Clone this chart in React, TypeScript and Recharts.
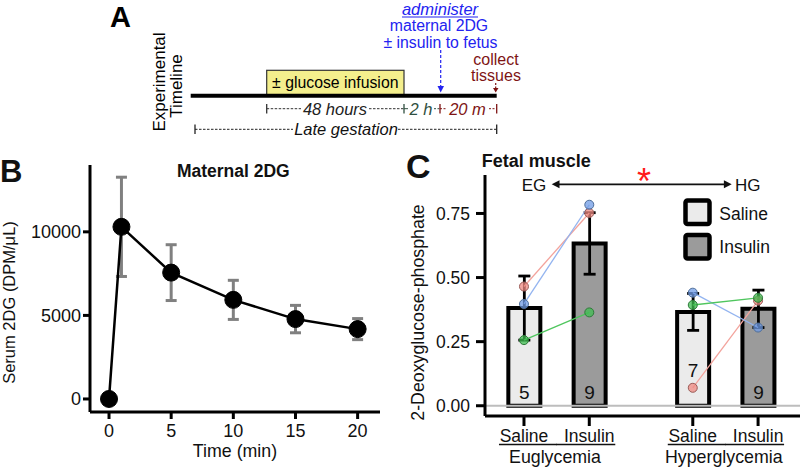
import React from 'react';
import {
  LineChart, Line, XAxis, YAxis, ErrorBar, ComposedChart, Bar, Cell, LabelList, ReferenceLine,
} from 'recharts';

const FONT = '"Liberation Sans", Arial, Helvetica, sans-serif';

// Panel B: maternal serum 2DG over time
const bTime = [0, 1, 5, 10, 15, 20];
const bMean = [0, 10300, 7560, 5930, 4780, 4180];
const bSem = [0, 2970, 1670, 1170, 820, 630];
const bTicksX = [0, 5, 10, 15, 20];
const bTicksY = [0, 5000, 10000];

// Panel C: fetal muscle 2-deoxyglucose-phosphate
const cGroups = ['Euglycemia', 'Hyperglycemia'];
const cTreat = ['Saline', 'Insulin', 'Saline', 'Insulin'];
const cPos = [1, 2, 3.585, 4.585];
const cMean = [0.381, 0.633, 0.366, 0.378];
const cSem = [0.125, 0.12, 0.072, 0.073];
const cN = [5, 9, 7, 9];
const cRed = [0.465, 0.752, 0.07, 0.41];
const cBlue = [0.397, 0.784, 0.441, 0.305];
const cGreen = [0.256, 0.364, 0.393, 0.421];
const cTicksY = [0, 0.25, 0.5, 0.75];
const cLegend = ['Saline', 'Insulin'];

const SALINE_FILL = '#ebebeb';
const INSULIN_FILL = '#9b9b9b';

const bData = bTime.map((t, i) => ({ t, v: bMean[i], e: bSem[i] }));

const cData = cPos.map((x, i) => {
  const eg = i < 2;
  return {
    x,
    mean: cMean[i],
    err: cSem[i],
    n: cN[i],
    redEG: eg ? cRed[i] : null,
    redHG: eg ? null : cRed[i],
    blueEG: eg ? cBlue[i] : null,
    blueHG: eg ? null : cBlue[i],
    greenEG: eg ? cGreen[i] : null,
    greenHG: eg ? null : cGreen[i],
  };
});

const subjects = [
  { key: 'red', line: '#f3a39c', fill: '#ef8a82', stroke: '#9a5c58' },
  { key: 'blue', line: '#93b4f0', fill: '#6f9be6', stroke: '#4f6f9a' },
  { key: 'green', line: '#4fc65e', fill: '#3fbd50', stroke: '#2f7a3a' },
];

const axisStyle = { stroke: '#000', strokeWidth: 3 };

function CTick(props: any) {
  const { x, y, index } = props;
  const even = index % 2 === 0;
  return (
    <g>
      <text x={x} y={y + 15} textAnchor="middle" fontSize={17.5} fontFamily={FONT} fill="#111">
        {cTreat[index]}
      </text>
      <line
        x1={even ? x - 25 : x - 33}
        x2={even ? x + 33 : x + 26}
        y1={y + 17.5}
        y2={y + 17.5}
        stroke="#111"
        strokeWidth={1.3}
      />
      {even && (
        <text x={x + 31} y={y + 35.5} textAnchor="middle" fontSize={17.8} fontFamily={FONT} fill="#111">
          {cGroups[index / 2]}
        </text>
      )}
    </g>
  );
}

function NLabel(props: any) {
  const vb = props.viewBox || props;
  const { x, y, width, height } = vb;
  // the hyperglycemia saline count sits higher to clear its data point
  const lift = props.index === 2 ? 22 : 0;
  return (
    <text
      x={x + width / 2}
      y={y + height - 7 - lift}
      textAnchor="middle"
      fontSize={19}
      fontFamily={FONT}
      fill="#111"
    >
      {props.value}
    </text>
  );
}

function PanelA() {
  const blue = '#2323f0';
  const red = '#7e1414';
  const green = '#2f4f40';
  return (
    <g fontFamily={FONT}>
      <text x={110} y={27} fontSize={29} fontWeight="bold">A</text>
      <text transform="rotate(-90 165 82)" x={165} y={82} textAnchor="middle" fontSize={17}>Experimental</text>
      <text transform="rotate(-90 182 86)" x={182} y={86} textAnchor="middle" fontSize={17}>Timeline</text>

      <rect x={266.7} y={70.3} width={137.3} height={25} fill="#f4ef8d" stroke="#333" strokeWidth={1.2} />
      <text x={335.3} y={88} textAnchor="middle" fontSize={15.8}>± glucose infusion</text>
      <line x1={190.7} x2={496.7} y1={95.7} y2={95.7} stroke="#000" strokeWidth={4} />

      <text x={440} y={14.5} textAnchor="middle" fontSize={16.5} fontStyle="italic" fill={blue}>administer</text>
      <line x1={402} x2={478} y1={17} y2={17} stroke={blue} strokeWidth={1.1} />
      <text x={439} y={31} textAnchor="middle" fontSize={15.8} fill={blue}>maternal 2DG</text>
      <text x={440.5} y={47.5} textAnchor="middle" fontSize={15.8} fill={blue}>± insulin to fetus</text>
      <line x1={440.7} x2={440.7} y1={50} y2={87} stroke={blue} strokeWidth={1.2} strokeDasharray="3 2" />
      <polygon points="437.5,86 444,86 440.7,92.5" fill={blue} />

      <text x={496} y={65} textAnchor="middle" fontSize={16} fill={red}>collect</text>
      <text x={496} y={81} textAnchor="middle" fontSize={16} fill={red}>tissues</text>
      <line x1={495.7} x2={495.7} y1={83} y2={88} stroke={red} strokeWidth={1.2} strokeDasharray="2 1.5" />
      <polygon points="493,88 498.5,88 495.7,92.5" fill={red} />

      <line x1={266.7} x2={301} y1={108.7} y2={108.7} stroke="#333" strokeWidth={1} strokeDasharray="2.5 1.5" />
      <line x1={369} x2={404} y1={108.7} y2={108.7} stroke="#333" strokeWidth={1} strokeDasharray="2.5 1.5" />
      <line x1={266.7} x2={266.7} y1={104} y2={113.5} stroke="#333" strokeWidth={1.3} />
      <text x={335} y={114.5} textAnchor="middle" fontSize={16.5} fontStyle="italic" fill="#222">48 hours</text>
      <line x1={404} x2={404} y1={104} y2={113.5} stroke={green} strokeWidth={1.3} />
      <line x1={404} x2={408} y1={108.7} y2={108.7} stroke={green} strokeWidth={1} />
      <text x={421} y={114.5} textAnchor="middle" fontSize={16.5} fontStyle="italic" fill={green}>2 h</text>
      <line x1={434} x2={440} y1={108.7} y2={108.7} stroke={green} strokeWidth={1} strokeDasharray="2 1.5" />
      <line x1={440} x2={440} y1={104} y2={113.5} stroke={red} strokeWidth={1.3} />
      <line x1={440} x2={447} y1={108.7} y2={108.7} stroke={red} strokeWidth={1} strokeDasharray="2 1.5" />
      <text x={467.5} y={114.5} textAnchor="middle" fontSize={16.5} fontStyle="italic" fill={red}>20 m</text>
      <line x1={489} x2={496.7} y1={108.7} y2={108.7} stroke={red} strokeWidth={1} strokeDasharray="2 1.5" />
      <line x1={496.7} x2={496.7} y1={104} y2={113.5} stroke={red} strokeWidth={1.3} />

      <line x1={195} x2={293} y1={129.3} y2={129.3} stroke="#222" strokeWidth={1} strokeDasharray="2.5 1.5" />
      <line x1={398} x2={496.7} y1={129.3} y2={129.3} stroke="#222" strokeWidth={1} strokeDasharray="2.5 1.5" />
      <line x1={195} x2={195} y1={124.5} y2={134} stroke="#222" strokeWidth={1.3} />
      <line x1={496.7} x2={496.7} y1={124.5} y2={134} stroke="#222" strokeWidth={1.3} />
      <text x={346} y={135.2} textAnchor="middle" fontSize={16.5} fontStyle="italic" fill="#111">Late gestation</text>
    </g>
  );
}

function Overlay() {
  return (
    <svg width={800} height={467} style={{ position: 'absolute', left: 0, top: 0, pointerEvents: 'none' }}>
      <PanelA />
      <g fontFamily={FONT} fill="#111">
        <text x={0} y={182} fontSize={31} fontWeight="bold">B</text>
        <text x={233.3} y={176.7} textAnchor="middle" fontSize={17.5} fontWeight="bold">Maternal 2DG</text>
        <text transform="rotate(-90 14.5 302.5)" x={14.5} y={302.5} textAnchor="middle" fontSize={16.5}>
          Serum 2DG (DPM/μL)
        </text>
        <text x={235} y={456.5} textAnchor="middle" fontSize={17.8}>Time (min)</text>

        <text x={406} y={178} fontSize={34} fontWeight="bold">C</text>
        <text x={481.7} y={167} fontSize={18} fontWeight="bold">Fetal muscle</text>
        <text transform="rotate(-90 423.5 312.5)" x={423.5} y={312.5} textAnchor="middle" fontSize={17.8}>
          2-Deoxyglucose-phosphate
        </text>
        <text x={521.7} y={191} fontSize={17}>EG</text>
        <text x={735} y={191} fontSize={17}>HG</text>
        <line x1={557} x2={726} y1={184.3} y2={184.3} stroke="#111" strokeWidth={1.8} />
        <polygon points="551.7,184.3 559.5,180.3 559.5,188.3" fill="#111" />
        <polygon points="731.7,184.3 723.9,180.3 723.9,188.3" fill="#111" />
        <text x={644} y={194} textAnchor="middle" fontSize={36} fill="#ff1a1a">*</text>

        {cLegend.map((name, i) => (
          <g key={name}>
            <rect
              x={685.5}
              y={200.5 + i * 34.4}
              width={24}
              height={23.5}
              rx={2}
              fill={i === 0 ? SALINE_FILL : INSULIN_FILL}
              stroke="#000"
              strokeWidth={4.5}
            />
            <text x={719.3} y={219.6 + i * 33.4} fontSize={17.5}>{name}</text>
          </g>
        ))}
      </g>
    </svg>
  );
}

export default function App() {
  return (
    <div style={{ position: 'absolute', left: 0, top: 0, width: 800, height: 467, background: '#fff', overflow: 'hidden' }}>
      <div style={{ position: 'absolute', left: 0, top: 150 }}>
        <LineChart width={390} height={317} data={bData} margin={{ top: 15, right: 10, bottom: 0, left: 0 }}>
          <XAxis
            dataKey="t"
            type="number"
            domain={[-1.53, 21.8]}
            allowDataOverflow
            ticks={bTicksX}
            height={55}
            axisLine={axisStyle}
            tickLine={axisStyle}
            tickSize={7}
            tickMargin={5}
            tick={{ fontSize: 18, fill: '#111', fontFamily: FONT }}
          />
          <YAxis
            type="number"
            domain={[-780, 14000]}
            allowDataOverflow
            ticks={bTicksY}
            width={90}
            axisLine={axisStyle}
            tickLine={axisStyle}
            tickSize={7}
            tickMargin={2}
            tick={{ fontSize: 18, fill: '#111', fontFamily: FONT }}
          />
          <Line
            dataKey="v"
            stroke="#000"
            strokeWidth={2.5}
            dot={{ r: 8.5, fill: '#000', stroke: '#000', strokeWidth: 1 }}
            activeDot={false}
            isAnimationActive={false}
          >
            <ErrorBar dataKey="e" direction="y" stroke="#808080" strokeWidth={3} width={5.5} />
          </Line>
        </LineChart>
      </div>

      <div style={{ position: 'absolute', left: 380, top: 140 }}>
        <ComposedChart width={420} height={327} data={cData} margin={{ top: 35, right: 0, bottom: 0, left: 0 }}>
          <XAxis
            dataKey="x"
            type="number"
            domain={[0.403, 5.227]}
            allowDataOverflow
            ticks={cPos}
            height={51}
            axisLine={axisStyle}
            tickLine={axisStyle}
            tickSize={10}
            tickMargin={1}
            tick={<CTick />}
            interval={0}
          />
          <YAxis
            type="number"
            domain={[-0.04, 0.9]}
            allowDataOverflow
            ticks={cTicksY}
            tickFormatter={(v: number) => v.toFixed(2)}
            width={105}
            axisLine={axisStyle}
            tickLine={axisStyle}
            tickSize={9}
            tickMargin={6}
            tick={{ fontSize: 17.5, fill: '#111', fontFamily: FONT }}
          />
          <ReferenceLine y={0} stroke="#bdbdbd" strokeWidth={2} />
          <Bar dataKey="mean" barSize={32} stroke="#000" strokeWidth={4} isAnimationActive={false}>
            {cData.map((d, i) => (
              <Cell key={i} fill={i % 2 === 0 ? SALINE_FILL : INSULIN_FILL} />
            ))}
            <ErrorBar dataKey="err" direction="y" stroke="#000" strokeWidth={2.8} width={6} />
            <LabelList dataKey="n" content={<NLabel />} />
          </Bar>
          {subjects.flatMap((s) =>
            ['EG', 'HG'].map((g) => (
              <Line
                key={s.key + g}
                dataKey={s.key + g}
                stroke={s.line}
                strokeWidth={1.3}
                dot={{ r: 4.5, fill: s.fill, fillOpacity: 0.75, stroke: s.stroke, strokeWidth: 1 }}
                activeDot={false}
                isAnimationActive={false}
              />
            )),
          )}
        </ComposedChart>
      </div>

      <Overlay />
    </div>
  );
}
